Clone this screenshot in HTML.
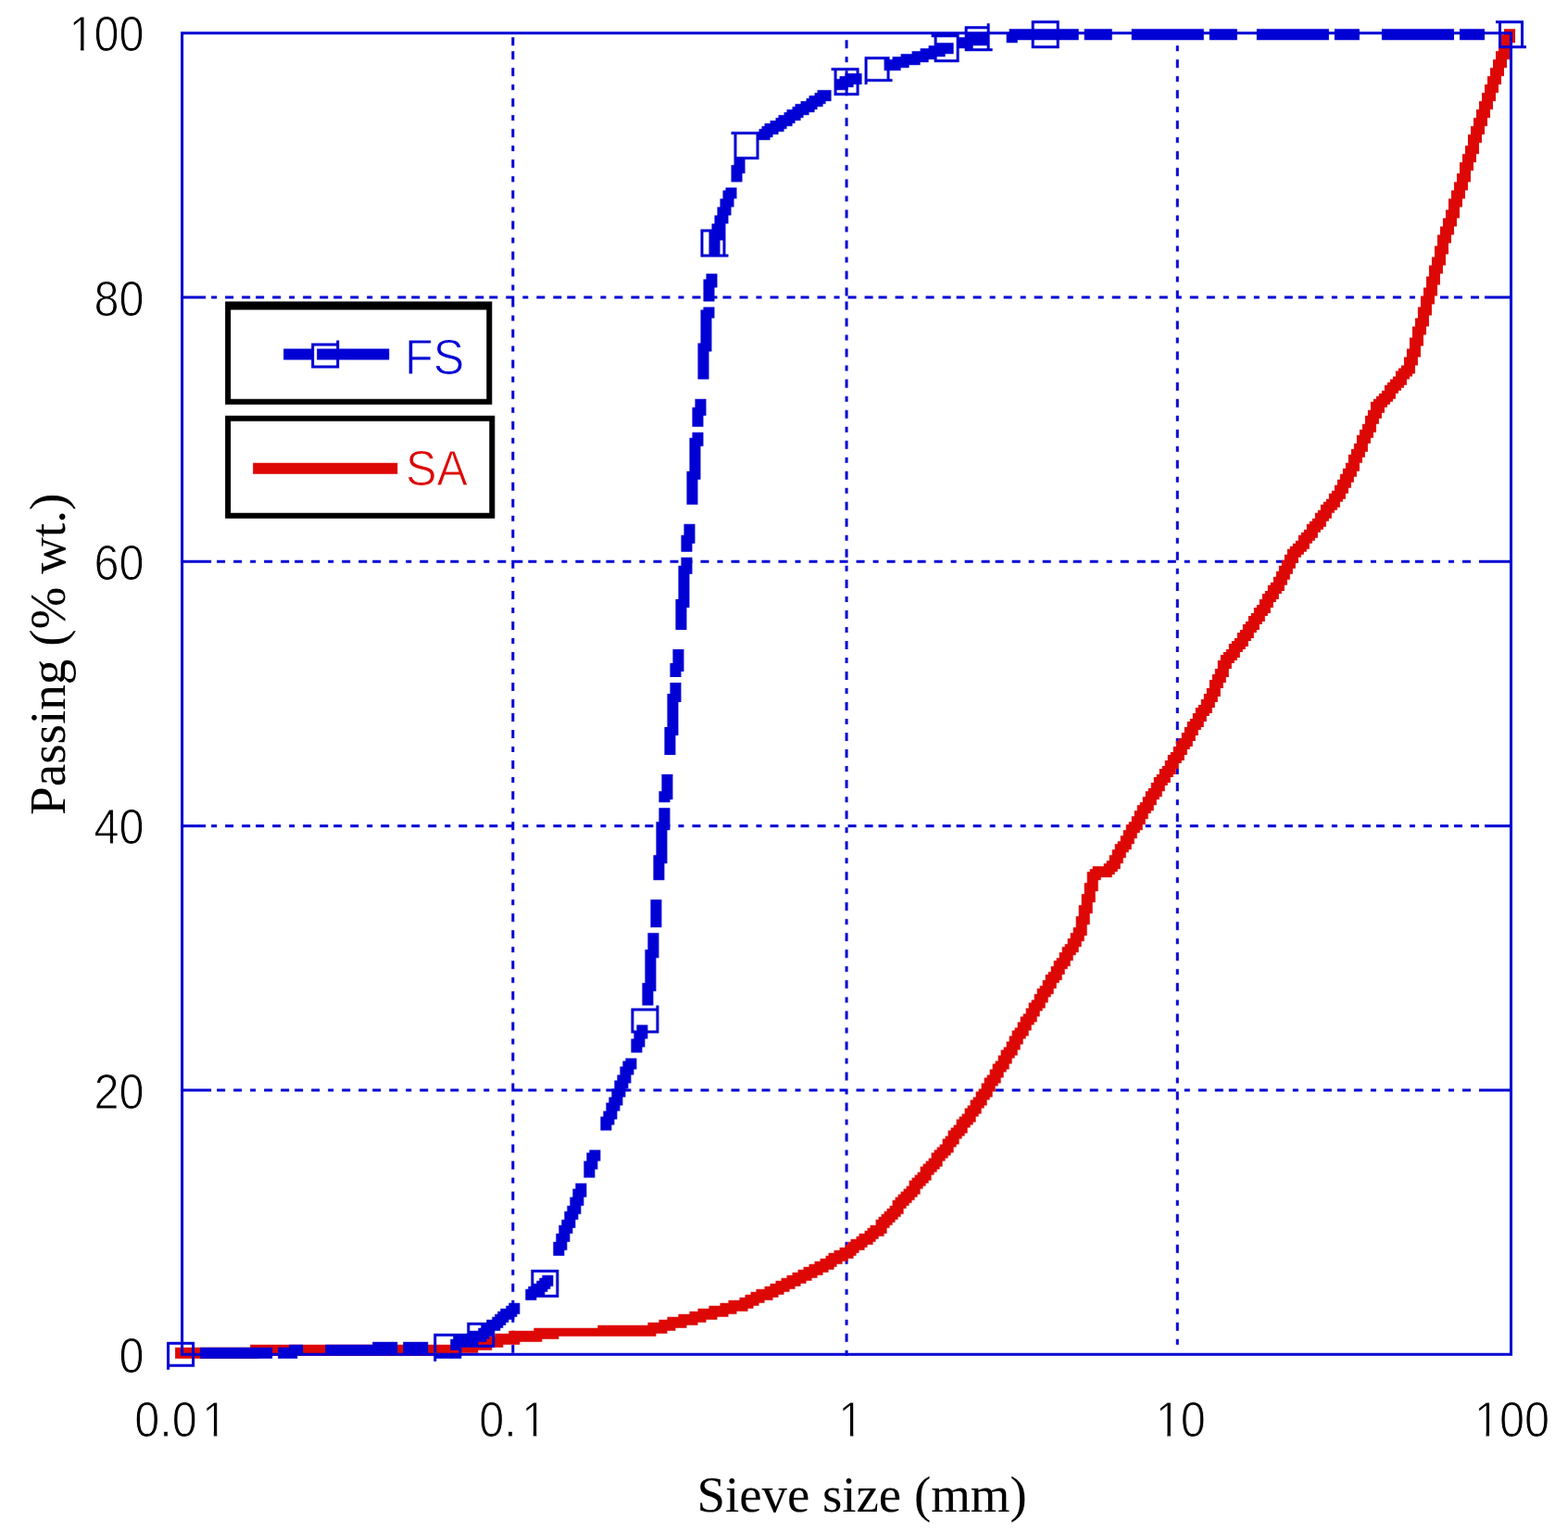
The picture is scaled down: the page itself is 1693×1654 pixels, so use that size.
<!DOCTYPE html>
<html lang="en">
<head>
<meta charset="utf-8">
<title>Sieve size (mm) vs Passing (% wt.)</title>
<style>
html,body{margin:0;padding:0;background:#fff;}
body{width:1693px;height:1654px;overflow:hidden;}
svg{display:block;}
text{white-space:pre;}
.tick{font-family:"Liberation Sans",Arial,Helvetica,sans-serif;font-size:54px;fill:#000;}
.axis{font-family:"Liberation Serif","Times New Roman",Times,serif;font-size:54px;fill:#000;}
.leg{font-family:"Liberation Sans",Arial,Helvetica,sans-serif;font-size:53px;}
</style>
</head>
<body>
<svg width="1693" height="1654" viewBox="0 0 1693 1654">
<rect x="0" y="0" width="1693" height="1654" fill="#fff"/>
<g>
<path id="grid" fill="#0000D4" d="M1269.75 37.2H1272.75V40.2H1269.75ZM552.33 40.2H555.33V49.21H552.33ZM912.54 43.21H915.54V52.22H912.54ZM1269.75 49.21H1272.75V55.22H1269.75ZM552.33 55.22H555.33V64.23H552.33ZM912.54 61.23H915.54V67.23H912.54ZM1269.75 64.23H1272.75V73.24H1269.75ZM552.33 73.24H555.33V82.25H552.33ZM912.54 76.25H915.54V85.26H912.54ZM1269.75 82.25H1272.75V88.26H1269.75ZM552.33 91.26H555.33V97.27H552.33ZM912.54 94.27H915.54V103.28H912.54ZM1269.75 97.27H1272.75V106.28H1269.75ZM552.33 106.28H555.33V115.29H552.33ZM912.54 112.29H915.54V118.29H912.54ZM1269.75 115.29H1272.75V121.3H1269.75ZM552.33 124.3H555.33V130.31H552.33ZM912.54 127.3H915.54V136.31H912.54ZM1269.75 130.31H1272.75V139.32H1269.75ZM552.33 139.32H555.33V148.33H552.33ZM912.54 145.32H915.54V151.33H912.54ZM1269.75 148.33H1272.75V154.33H1269.75ZM552.33 157.34H555.33V163.34H552.33ZM912.54 160.34H915.54V169.35H912.54ZM1269.75 163.34H1272.75V172.35H1269.75ZM552.33 172.35H555.33V181.36H552.33ZM912.54 178.36H915.54V184.37H912.54ZM1269.75 181.36H1272.75V190.37H1269.75ZM552.33 190.37H555.33V196.38H552.33ZM912.54 193.38H915.54V202.39H912.54ZM1269.75 199.38H1272.75V205.39H1269.75ZM552.33 205.39H555.33V214.4H552.33ZM912.54 211.4H915.54V217.4H912.54ZM1269.75 214.4H1272.75V223.41H1269.75ZM552.33 223.41H555.33V229.42H552.33ZM912.54 226.41H915.54V235.43H912.54ZM1269.75 232.42H1272.75V238.43H1269.75ZM552.33 238.43H555.33V247.44H552.33ZM912.54 244.44H915.54V250.44H912.54ZM1269.75 247.44H1272.75V256.45H1269.75ZM552.33 256.45H555.33V262.46H552.33ZM912.54 259.45H915.54V268.46H912.54ZM1269.75 265.46H1272.75V271.47H1269.75ZM552.33 271.47H555.33V280.48H552.33ZM912.54 277.47H915.54V283.48H912.54ZM1269.75 280.48H1272.75V289.49H1269.75ZM552.33 289.49H555.33V298.5H552.33ZM912.54 292.49H915.54V301.5H912.54ZM1269.75 298.5H1272.75V304.5H1269.75ZM552.33 307.51H555.33V313.51H552.33ZM912.54 310.51H915.54V319.52H912.54ZM1269.75 313.51H1272.75V319.52H1269.75ZM195.12 319.52H222.13V322.52H195.12ZM228.13 319.52H234.14V322.52H228.13ZM243.14 319.52H252.15V322.52H243.14ZM261.15 319.52H270.16V322.52H261.15ZM276.16 319.52H285.17V322.52H276.16ZM294.17 319.52H303.18V322.52H294.17ZM312.18 319.52H318.19V322.52H312.18ZM327.19 319.52H336.2V322.52H327.19ZM345.2 319.52H354.21V322.52H345.2ZM360.21 319.52H369.22V322.52H360.21ZM378.22 319.52H387.23V322.52H378.22ZM396.23 319.52H402.24V322.52H396.23ZM411.24 319.52H420.25V322.52H411.24ZM429.25 319.52H438.26V322.52H429.25ZM444.26 319.52H453.27V322.52H444.26ZM462.27 319.52H471.28V322.52H462.27ZM480.28 319.52H486.29V322.52H480.28ZM495.29 319.52H504.3V322.52H495.29ZM513.3 319.52H522.31V322.52H513.3ZM528.31 319.52H537.32V322.52H528.31ZM546.32 319.52H555.33V322.52H546.32ZM564.33 319.52H570.34V322.52H564.33ZM579.34 319.52H588.35V322.52H579.34ZM597.35 319.52H606.36V322.52H597.35ZM612.36 319.52H621.37V322.52H612.36ZM630.37 319.52H639.38V322.52H630.37ZM648.38 319.52H654.39V322.52H648.38ZM663.39 319.52H672.4V322.52H663.39ZM681.4 319.52H690.41V322.52H681.4ZM696.41 319.52H705.42V322.52H696.41ZM714.42 319.52H723.43V322.52H714.42ZM732.43 319.52H738.44V322.52H732.43ZM747.44 319.52H756.45V322.52H747.44ZM765.45 319.52H774.46V322.52H765.45ZM780.46 319.52H789.47V322.52H780.46ZM798.47 319.52H807.48V322.52H798.47ZM816.48 319.52H822.49V322.52H816.48ZM831.49 319.52H840.5V322.52H831.49ZM849.5 319.52H858.51V322.52H849.5ZM864.51 319.52H873.52V322.52H864.51ZM882.52 319.52H891.53V322.52H882.52ZM900.53 319.52H906.54V322.52H900.53ZM915.54 319.52H924.55V322.52H915.54ZM933.55 319.52H942.56V322.52H933.55ZM948.56 319.52H957.57V322.52H948.56ZM966.57 319.52H975.58V322.52H966.57ZM984.58 319.52H990.59V322.52H984.58ZM999.59 319.52H1008.6V322.52H999.59ZM1017.6 319.52H1026.61V322.52H1017.6ZM1032.61 319.52H1041.62V322.52H1032.61ZM1050.62 319.52H1059.63V322.52H1050.62ZM1068.63 319.52H1074.63V322.52H1068.63ZM1083.64 319.52H1092.65V322.52H1083.64ZM1101.65 319.52H1107.65V322.52H1101.65ZM1116.66 319.52H1125.66V322.52H1116.66ZM1134.67 319.52H1143.68V322.52H1134.67ZM1152.68 319.52H1158.68V322.52H1152.68ZM1167.69 319.52H1176.7V322.52H1167.69ZM1185.7 319.52H1191.7V322.52H1185.7ZM1200.71 319.52H1209.71V322.52H1200.71ZM1218.72 319.52H1227.73V322.52H1218.72ZM1236.73 319.52H1242.73V322.52H1236.73ZM1251.74 319.52H1260.74V322.52H1251.74ZM1269.75 319.52H1275.75V322.52H1269.75ZM1284.76 319.52H1293.76V322.52H1284.76ZM1302.77 319.52H1311.77V322.52H1302.77ZM1320.78 319.52H1326.78V322.52H1320.78ZM1335.79 319.52H1344.79V322.52H1335.79ZM1353.8 319.52H1359.8V322.52H1353.8ZM1368.81 319.52H1377.81V322.52H1368.81ZM1386.82 319.52H1395.82V322.52H1386.82ZM1401.83 319.52H1410.83V322.52H1401.83ZM1419.84 319.52H1428.84V322.52H1419.84ZM1437.85 319.52H1443.85V322.52H1437.85ZM1452.86 319.52H1461.86V322.52H1452.86ZM1470.87 319.52H1479.87V322.52H1470.87ZM1485.88 319.52H1494.88V322.52H1485.88ZM1503.89 319.52H1512.89V322.52H1503.89ZM1521.9 319.52H1527.9V322.52H1521.9ZM1536.91 319.52H1545.91V322.52H1536.91ZM1554.92 319.52H1563.92V322.52H1554.92ZM1569.93 319.52H1578.93V322.52H1569.93ZM1587.94 319.52H1596.94V322.52H1587.94ZM1602.95 319.52H1632.96V322.52H1602.95ZM552.33 322.52H555.33V331.53H552.33ZM912.54 325.53H915.54V334.54H912.54ZM1269.75 331.53H1272.75V337.54H1269.75ZM552.33 340.54H555.33V346.55H552.33ZM912.54 343.55H915.54V352.56H912.54ZM1269.75 346.55H1272.75V355.56H1269.75ZM552.33 355.56H555.33V364.57H552.33ZM912.54 361.57H915.54V367.57H912.54ZM1269.75 364.57H1272.75V370.58H1269.75ZM552.33 373.58H555.33V379.59H552.33ZM912.54 376.59H915.54V385.6H912.54ZM1269.75 379.59H1272.75V388.6H1269.75ZM552.33 388.6H555.33V397.61H552.33ZM912.54 394.61H915.54V400.61H912.54ZM1269.75 397.61H1272.75V403.62H1269.75ZM552.33 406.62H555.33V412.63H552.33ZM912.54 409.62H915.54V418.63H912.54ZM1269.75 412.63H1272.75V421.64H1269.75ZM552.33 421.64H555.33V430.65H552.33ZM912.54 427.64H915.54V433.65H912.54ZM1269.75 430.65H1272.75V439.66H1269.75ZM552.33 439.66H555.33V445.66H552.33ZM912.54 442.66H915.54V451.67H912.54ZM1269.75 448.67H1272.75V454.67H1269.75ZM552.33 454.67H555.33V463.68H552.33ZM912.54 460.68H915.54V466.69H912.54ZM1269.75 463.68H1272.75V472.69H1269.75ZM552.33 472.69H555.33V478.7H552.33ZM912.54 475.7H915.54V484.71H912.54ZM1269.75 481.7H1272.75V487.71H1269.75ZM552.33 487.71H555.33V496.72H552.33ZM912.54 493.72H915.54V499.72H912.54ZM1269.75 496.72H1272.75V505.73H1269.75ZM552.33 505.73H555.33V511.74H552.33ZM912.54 508.73H915.54V517.74H912.54ZM1269.75 514.74H1272.75V520.75H1269.75ZM552.33 520.75H555.33V529.76H552.33ZM912.54 526.75H915.54V532.76H912.54ZM1269.75 529.76H1272.75V538.77H1269.75ZM552.33 538.77H555.33V547.78H552.33ZM912.54 541.77H915.54V550.78H912.54ZM1269.75 547.78H1272.75V553.79H1269.75ZM552.33 556.79H555.33V562.8H552.33ZM912.54 559.79H915.54V568.8H912.54ZM1269.75 562.8H1272.75V571.81H1269.75ZM552.33 571.81H555.33V580.82H552.33ZM912.54 577.81H915.54V583.82H912.54ZM1269.75 580.82H1272.75V586.82H1269.75ZM552.33 589.83H555.33V595.83H552.33ZM912.54 592.83H915.54V601.84H912.54ZM1269.75 595.83H1272.75V604.84H1269.75ZM195.12 604.84H228.13V607.85H195.12ZM234.14 604.84H243.14V607.85H234.14ZM252.15 604.84H261.15V607.85H252.15ZM270.16 604.84H276.16V607.85H270.16ZM285.17 604.84H294.17V607.85H285.17ZM303.18 604.84H312.18V607.85H303.18ZM318.19 604.84H327.19V607.85H318.19ZM336.2 604.84H345.2V607.85H336.2ZM354.21 604.84H360.21V607.85H354.21ZM369.22 604.84H378.22V607.85H369.22ZM387.23 604.84H396.23V607.85H387.23ZM402.24 604.84H411.24V607.85H402.24ZM420.25 604.84H429.25V607.85H420.25ZM438.26 604.84H444.26V607.85H438.26ZM453.27 604.84H462.27V607.85H453.27ZM471.28 604.84H480.28V607.85H471.28ZM486.29 604.84H495.29V607.85H486.29ZM504.3 604.84H513.3V607.85H504.3ZM522.31 604.84H528.31V607.85H522.31ZM537.32 604.84H546.32V607.85H537.32ZM552.33 604.84H564.33V607.85H552.33ZM570.34 604.84H579.34V607.85H570.34ZM588.35 604.84H597.35V607.85H588.35ZM606.36 604.84H612.36V607.85H606.36ZM621.37 604.84H630.37V607.85H621.37ZM639.38 604.84H648.38V607.85H639.38ZM654.39 604.84H663.39V607.85H654.39ZM672.4 604.84H681.4V607.85H672.4ZM690.41 604.84H696.41V607.85H690.41ZM705.42 604.84H714.42V607.85H705.42ZM723.43 604.84H732.43V607.85H723.43ZM738.44 604.84H747.44V607.85H738.44ZM756.45 604.84H765.45V607.85H756.45ZM774.46 604.84H780.46V607.85H774.46ZM789.47 604.84H798.47V607.85H789.47ZM807.48 604.84H816.48V607.85H807.48ZM822.49 604.84H831.49V607.85H822.49ZM840.5 604.84H849.5V607.85H840.5ZM858.51 604.84H864.51V607.85H858.51ZM873.52 604.84H882.52V607.85H873.52ZM891.53 604.84H900.53V607.85H891.53ZM906.54 604.84H915.54V607.85H906.54ZM924.55 604.84H933.55V607.85H924.55ZM942.56 604.84H948.56V607.85H942.56ZM957.57 604.84H966.57V607.85H957.57ZM975.58 604.84H984.58V607.85H975.58ZM990.59 604.84H999.59V607.85H990.59ZM1008.6 604.84H1017.6V607.85H1008.6ZM1026.61 604.84H1032.61V607.85H1026.61ZM1041.62 604.84H1050.62V607.85H1041.62ZM1059.63 604.84H1068.63V607.85H1059.63ZM1074.63 604.84H1083.64V607.85H1074.63ZM1092.65 604.84H1101.65V607.85H1092.65ZM1110.66 604.84H1116.66V607.85H1110.66ZM1125.66 604.84H1134.67V607.85H1125.66ZM1143.68 604.84H1152.68V607.85H1143.68ZM1158.68 604.84H1167.69V607.85H1158.68ZM1176.7 604.84H1185.7V607.85H1176.7ZM1194.71 604.84H1200.71V607.85H1194.71ZM1209.71 604.84H1218.72V607.85H1209.71ZM1227.73 604.84H1236.73V607.85H1227.73ZM1242.73 604.84H1251.74V607.85H1242.73ZM1260.74 604.84H1269.75V607.85H1260.74ZM1278.76 604.84H1284.76V607.85H1278.76ZM1293.76 604.84H1302.77V607.85H1293.76ZM1311.77 604.84H1320.78V607.85H1311.77ZM1326.78 604.84H1335.79V607.85H1326.78ZM1344.79 604.84H1353.8V607.85H1344.79ZM1359.8 604.84H1368.81V607.85H1359.8ZM1377.81 604.84H1386.82V607.85H1377.81ZM1395.82 604.84H1401.83V607.85H1395.82ZM1410.83 604.84H1419.84V607.85H1410.83ZM1428.84 604.84H1437.85V607.85H1428.84ZM1443.85 604.84H1452.86V607.85H1443.85ZM1461.86 604.84H1470.87V607.85H1461.86ZM1479.87 604.84H1485.88V607.85H1479.87ZM1494.88 604.84H1503.89V607.85H1494.88ZM1512.89 604.84H1521.9V607.85H1512.89ZM1527.9 604.84H1536.91V607.85H1527.9ZM1545.91 604.84H1554.92V607.85H1545.91ZM1563.92 604.84H1569.93V607.85H1563.92ZM1578.93 604.84H1587.94V607.85H1578.93ZM1596.94 604.84H1632.96V607.85H1596.94ZM552.33 607.85H555.33V613.85H552.33ZM912.54 610.85H915.54V616.86H912.54ZM1269.75 613.85H1272.75V619.86H1269.75ZM552.33 622.86H555.33V628.87H552.33ZM912.54 625.87H915.54V634.88H912.54ZM1269.75 628.87H1272.75V637.88H1269.75ZM552.33 637.88H555.33V646.89H552.33ZM912.54 643.89H915.54V649.89H912.54ZM1269.75 646.89H1272.75V655.9H1269.75ZM552.33 655.9H555.33V661.91H552.33ZM912.54 658.9H915.54V667.91H912.54ZM1269.75 661.91H1272.75V670.92H1269.75ZM552.33 670.92H555.33V679.93H552.33ZM912.54 676.92H915.54V682.93H912.54ZM1269.75 679.93H1272.75V688.94H1269.75ZM552.33 688.94H555.33V694.95H552.33ZM912.54 691.94H915.54V700.95H912.54ZM1269.75 697.95H1272.75V703.96H1269.75ZM552.33 703.96H555.33V712.97H552.33ZM912.54 709.96H915.54V715.97H912.54ZM1269.75 712.97H1272.75V721.98H1269.75ZM552.33 721.98H555.33V727.98H552.33ZM912.54 724.98H915.54V733.99H912.54ZM1269.75 730.99H1272.75V736.99H1269.75ZM552.33 736.99H555.33V746H552.33ZM912.54 743H915.54V749.01H912.54ZM1269.75 746H1272.75V755.01H1269.75ZM552.33 755.01H555.33V764.02H552.33ZM912.54 758.02H915.54V767.03H912.54ZM1269.75 764.02H1272.75V770.03H1269.75ZM552.33 770.03H555.33V779.04H552.33ZM912.54 776.04H915.54V782.04H912.54ZM1269.75 779.04H1272.75V788.05H1269.75ZM552.33 788.05H555.33V797.06H552.33ZM912.54 791.05H915.54V800.06H912.54ZM1269.75 797.06H1272.75V803.07H1269.75ZM552.33 806.07H555.33V812.08H552.33ZM912.54 809.07H915.54V818.08H912.54ZM1269.75 812.08H1272.75V821.09H1269.75ZM552.33 821.09H555.33V830.1H552.33ZM912.54 827.1H915.54V833.1H912.54ZM1269.75 830.1H1272.75V836.11H1269.75ZM552.33 839.11H555.33V845.12H552.33ZM912.54 842.11H915.54V851.12H912.54ZM1269.75 845.12H1272.75V854.13H1269.75ZM552.33 854.13H555.33V863.14H552.33ZM912.54 860.13H915.54V866.14H912.54ZM1269.75 863.14H1272.75V869.14H1269.75ZM552.33 872.15H555.33V878.15H552.33ZM912.54 875.15H915.54V884.16H912.54ZM1269.75 878.15H1272.75V887.16H1269.75ZM552.33 887.16H555.33V890.17H552.33ZM195.12 890.17H222.13V893.17H195.12ZM228.13 890.17H234.14V893.17H228.13ZM243.14 890.17H252.15V893.17H243.14ZM261.15 890.17H270.16V893.17H261.15ZM276.16 890.17H285.17V893.17H276.16ZM294.17 890.17H303.18V893.17H294.17ZM312.18 890.17H318.19V893.17H312.18ZM327.19 890.17H336.2V893.17H327.19ZM345.2 890.17H354.21V893.17H345.2ZM360.21 890.17H369.22V893.17H360.21ZM378.22 890.17H387.23V893.17H378.22ZM396.23 890.17H402.24V893.17H396.23ZM411.24 890.17H420.25V893.17H411.24ZM429.25 890.17H438.26V893.17H429.25ZM444.26 890.17H453.27V893.17H444.26ZM462.27 890.17H471.28V893.17H462.27ZM480.28 890.17H486.29V893.17H480.28ZM495.29 890.17H504.3V893.17H495.29ZM513.3 890.17H522.31V893.17H513.3ZM528.31 890.17H537.32V893.17H528.31ZM546.32 890.17H555.33V893.17H546.32ZM564.33 890.17H570.34V893.17H564.33ZM579.34 890.17H588.35V893.17H579.34ZM597.35 890.17H606.36V893.17H597.35ZM612.36 890.17H621.37V893.17H612.36ZM630.37 890.17H639.38V893.17H630.37ZM648.38 890.17H654.39V893.17H648.38ZM663.39 890.17H672.4V893.17H663.39ZM681.4 890.17H690.41V893.17H681.4ZM696.41 890.17H705.42V893.17H696.41ZM714.42 890.17H723.43V893.17H714.42ZM732.43 890.17H738.44V893.17H732.43ZM747.44 890.17H756.45V893.17H747.44ZM765.45 890.17H774.46V893.17H765.45ZM780.46 890.17H789.47V893.17H780.46ZM798.47 890.17H807.48V893.17H798.47ZM816.48 890.17H822.49V893.17H816.48ZM831.49 890.17H840.5V893.17H831.49ZM849.5 890.17H858.51V893.17H849.5ZM864.51 890.17H873.52V893.17H864.51ZM882.52 890.17H891.53V893.17H882.52ZM900.53 890.17H906.54V893.17H900.53ZM915.54 890.17H924.55V893.17H915.54ZM933.55 890.17H942.56V893.17H933.55ZM948.56 890.17H957.57V893.17H948.56ZM966.57 890.17H975.58V893.17H966.57ZM984.58 890.17H990.59V893.17H984.58ZM999.59 890.17H1008.6V893.17H999.59ZM1017.6 890.17H1026.61V893.17H1017.6ZM1032.61 890.17H1041.62V893.17H1032.61ZM1050.62 890.17H1059.63V893.17H1050.62ZM1068.63 890.17H1074.63V893.17H1068.63ZM1083.64 890.17H1092.65V893.17H1083.64ZM1101.65 890.17H1107.65V893.17H1101.65ZM1116.66 890.17H1125.66V893.17H1116.66ZM1134.67 890.17H1143.68V893.17H1134.67ZM1152.68 890.17H1158.68V893.17H1152.68ZM1167.69 890.17H1176.7V893.17H1167.69ZM1185.7 890.17H1191.7V893.17H1185.7ZM1200.71 890.17H1209.71V893.17H1200.71ZM1218.72 890.17H1227.73V893.17H1218.72ZM1236.73 890.17H1242.73V893.17H1236.73ZM1251.74 890.17H1260.74V893.17H1251.74ZM1269.75 890.17H1275.75V893.17H1269.75ZM1284.76 890.17H1293.76V893.17H1284.76ZM1302.77 890.17H1311.77V893.17H1302.77ZM1320.78 890.17H1326.78V893.17H1320.78ZM1335.79 890.17H1344.79V893.17H1335.79ZM1353.8 890.17H1359.8V893.17H1353.8ZM1368.81 890.17H1377.81V893.17H1368.81ZM1386.82 890.17H1395.82V893.17H1386.82ZM1401.83 890.17H1410.83V893.17H1401.83ZM1419.84 890.17H1428.84V893.17H1419.84ZM1437.85 890.17H1443.85V893.17H1437.85ZM1452.86 890.17H1461.86V893.17H1452.86ZM1470.87 890.17H1479.87V893.17H1470.87ZM1485.88 890.17H1494.88V893.17H1485.88ZM1503.89 890.17H1512.89V893.17H1503.89ZM1521.9 890.17H1527.9V893.17H1521.9ZM1536.91 890.17H1545.91V893.17H1536.91ZM1554.92 890.17H1563.92V893.17H1554.92ZM1569.93 890.17H1578.93V893.17H1569.93ZM1587.94 890.17H1596.94V893.17H1587.94ZM1602.95 890.17H1632.96V893.17H1602.95ZM552.33 893.17H555.33V896.17H552.33ZM912.54 893.17H915.54V899.18H912.54ZM1269.75 896.17H1272.75V905.18H1269.75ZM552.33 905.18H555.33V911.19H552.33ZM912.54 908.19H915.54V917.2H912.54ZM1269.75 914.19H1272.75V920.2H1269.75ZM552.33 920.2H555.33V929.21H552.33ZM912.54 926.21H915.54V932.21H912.54ZM1269.75 929.21H1272.75V938.22H1269.75ZM552.33 938.22H555.33V944.23H552.33ZM912.54 941.22H915.54V950.23H912.54ZM1269.75 947.23H1272.75V953.24H1269.75ZM552.33 953.24H555.33V962.25H552.33ZM912.54 959.24H915.54V965.25H912.54ZM1269.75 962.25H1272.75V971.26H1269.75ZM552.33 971.26H555.33V977.26H552.33ZM912.54 974.26H915.54V983.27H912.54ZM1269.75 980.27H1272.75V986.28H1269.75ZM552.33 986.28H555.33V995.29H552.33ZM912.54 992.28H915.54V998.29H912.54ZM1269.75 995.29H1272.75V1004.3H1269.75ZM552.33 1004.3H555.33V1013.31H552.33ZM912.54 1007.3H915.54V1016.31H912.54ZM1269.75 1013.31H1272.75V1019.31H1269.75ZM552.33 1022.32H555.33V1028.32H552.33ZM912.54 1025.32H915.54V1034.33H912.54ZM1269.75 1028.32H1272.75V1037.33H1269.75ZM552.33 1037.33H555.33V1046.34H552.33ZM912.54 1043.34H915.54V1049.35H912.54ZM1269.75 1046.34H1272.75V1052.35H1269.75ZM552.33 1055.35H555.33V1061.36H552.33ZM912.54 1058.36H915.54V1067.37H912.54ZM1269.75 1061.36H1272.75V1070.37H1269.75ZM552.33 1070.37H555.33V1079.38H552.33ZM912.54 1076.38H915.54V1082.38H912.54ZM1269.75 1079.38H1272.75V1085.39H1269.75ZM552.33 1088.39H555.33V1094.4H552.33ZM912.54 1091.39H915.54V1100.4H912.54ZM1269.75 1094.4H1272.75V1103.41H1269.75ZM552.33 1103.41H555.33V1112.42H552.33ZM912.54 1109.41H915.54V1115.42H912.54ZM1269.75 1112.42H1272.75V1118.42H1269.75ZM552.33 1121.43H555.33V1127.44H552.33ZM912.54 1124.43H915.54V1133.44H912.54ZM1269.75 1127.44H1272.75V1136.45H1269.75ZM552.33 1136.45H555.33V1145.46H552.33ZM912.54 1142.45H915.54V1148.46H912.54ZM1269.75 1145.46H1272.75V1154.47H1269.75ZM552.33 1154.47H555.33V1160.47H552.33ZM912.54 1157.47H915.54V1166.48H912.54ZM1269.75 1163.48H1272.75V1169.48H1269.75ZM552.33 1169.48H555.33V1175.49H552.33ZM195.12 1175.49H228.13V1178.49H195.12ZM234.14 1175.49H243.14V1178.49H234.14ZM252.15 1175.49H261.15V1178.49H252.15ZM270.16 1175.49H276.16V1178.49H270.16ZM285.17 1175.49H294.17V1178.49H285.17ZM303.18 1175.49H312.18V1178.49H303.18ZM318.19 1175.49H327.19V1178.49H318.19ZM336.2 1175.49H345.2V1178.49H336.2ZM354.21 1175.49H360.21V1178.49H354.21ZM369.22 1175.49H378.22V1178.49H369.22ZM387.23 1175.49H396.23V1178.49H387.23ZM402.24 1175.49H411.24V1178.49H402.24ZM420.25 1175.49H429.25V1178.49H420.25ZM438.26 1175.49H444.26V1178.49H438.26ZM453.27 1175.49H462.27V1178.49H453.27ZM471.28 1175.49H480.28V1178.49H471.28ZM486.29 1175.49H495.29V1178.49H486.29ZM504.3 1175.49H513.3V1178.49H504.3ZM522.31 1175.49H528.31V1178.49H522.31ZM537.32 1175.49H546.32V1178.49H537.32ZM552.33 1175.49H564.33V1178.49H552.33ZM570.34 1175.49H579.34V1178.49H570.34ZM588.35 1175.49H597.35V1178.49H588.35ZM606.36 1175.49H612.36V1178.49H606.36ZM621.37 1175.49H630.37V1178.49H621.37ZM639.38 1175.49H648.38V1178.49H639.38ZM654.39 1175.49H663.39V1178.49H654.39ZM672.4 1175.49H681.4V1178.49H672.4ZM690.41 1175.49H696.41V1178.49H690.41ZM705.42 1175.49H714.42V1178.49H705.42ZM723.43 1175.49H732.43V1178.49H723.43ZM738.44 1175.49H747.44V1178.49H738.44ZM756.45 1175.49H765.45V1178.49H756.45ZM774.46 1175.49H780.46V1178.49H774.46ZM789.47 1175.49H798.47V1178.49H789.47ZM807.48 1175.49H816.48V1178.49H807.48ZM822.49 1175.49H831.49V1178.49H822.49ZM840.5 1175.49H849.5V1178.49H840.5ZM858.51 1175.49H864.51V1178.49H858.51ZM873.52 1175.49H882.52V1178.49H873.52ZM891.53 1175.49H900.53V1178.49H891.53ZM906.54 1175.49H915.54V1178.49H906.54ZM924.55 1175.49H933.55V1178.49H924.55ZM942.56 1175.49H948.56V1178.49H942.56ZM957.57 1175.49H966.57V1178.49H957.57ZM975.58 1175.49H984.58V1178.49H975.58ZM990.59 1175.49H999.59V1178.49H990.59ZM1008.6 1175.49H1017.6V1178.49H1008.6ZM1026.61 1175.49H1032.61V1178.49H1026.61ZM1041.62 1175.49H1050.62V1178.49H1041.62ZM1059.63 1175.49H1068.63V1178.49H1059.63ZM1074.63 1175.49H1083.64V1178.49H1074.63ZM1092.65 1175.49H1101.65V1178.49H1092.65ZM1110.66 1175.49H1116.66V1178.49H1110.66ZM1125.66 1175.49H1134.67V1178.49H1125.66ZM1143.68 1175.49H1152.68V1178.49H1143.68ZM1158.68 1175.49H1167.69V1178.49H1158.68ZM1176.7 1175.49H1185.7V1178.49H1176.7ZM1194.71 1175.49H1200.71V1178.49H1194.71ZM1209.71 1175.49H1218.72V1178.49H1209.71ZM1227.73 1175.49H1236.73V1178.49H1227.73ZM1242.73 1175.49H1251.74V1178.49H1242.73ZM1260.74 1175.49H1269.75V1178.49H1260.74ZM1278.76 1175.49H1284.76V1178.49H1278.76ZM1293.76 1175.49H1302.77V1178.49H1293.76ZM1311.77 1175.49H1320.78V1178.49H1311.77ZM1326.78 1175.49H1335.79V1178.49H1326.78ZM1344.79 1175.49H1353.8V1178.49H1344.79ZM1359.8 1175.49H1368.81V1178.49H1359.8ZM1377.81 1175.49H1386.82V1178.49H1377.81ZM1395.82 1175.49H1401.83V1178.49H1395.82ZM1410.83 1175.49H1419.84V1178.49H1410.83ZM1428.84 1175.49H1437.85V1178.49H1428.84ZM1443.85 1175.49H1452.86V1178.49H1443.85ZM1461.86 1175.49H1470.87V1178.49H1461.86ZM1479.87 1175.49H1485.88V1178.49H1479.87ZM1494.88 1175.49H1503.89V1178.49H1494.88ZM1512.89 1175.49H1521.9V1178.49H1512.89ZM1527.9 1175.49H1536.91V1178.49H1527.9ZM1545.91 1175.49H1554.92V1178.49H1545.91ZM1563.92 1175.49H1569.93V1178.49H1563.92ZM1578.93 1175.49H1587.94V1178.49H1578.93ZM1596.94 1175.49H1632.96V1178.49H1596.94ZM912.54 1178.49H915.54V1181.5H912.54ZM1269.75 1178.49H1272.75V1187.5H1269.75ZM552.33 1187.5H555.33V1193.51H552.33ZM912.54 1190.51H915.54V1199.52H912.54ZM1269.75 1196.51H1272.75V1202.52H1269.75ZM552.33 1202.52H555.33V1211.53H552.33ZM912.54 1208.53H915.54V1214.53H912.54ZM1269.75 1211.53H1272.75V1220.54H1269.75ZM552.33 1220.54H555.33V1226.55H552.33ZM912.54 1223.54H915.54V1232.55H912.54ZM1269.75 1229.55H1272.75V1235.56H1269.75ZM552.33 1235.56H555.33V1244.57H552.33ZM912.54 1241.56H915.54V1247.57H912.54ZM1269.75 1244.57H1272.75V1253.58H1269.75ZM552.33 1253.58H555.33V1262.59H552.33ZM912.54 1256.58H915.54V1265.59H912.54ZM1269.75 1262.59H1272.75V1268.59H1269.75ZM552.33 1271.6H555.33V1277.61H552.33ZM912.54 1274.6H915.54V1283.61H912.54ZM1269.75 1277.61H1272.75V1286.62H1269.75ZM552.33 1286.62H555.33V1295.63H552.33ZM912.54 1292.62H915.54V1298.63H912.54ZM1269.75 1295.63H1272.75V1301.63H1269.75ZM552.33 1304.64H555.33V1310.64H552.33ZM912.54 1307.64H915.54V1316.65H912.54ZM1269.75 1310.64H1272.75V1319.65H1269.75ZM552.33 1319.65H555.33V1328.66H552.33ZM912.54 1325.66H915.54V1331.67H912.54ZM1269.75 1328.66H1272.75V1334.67H1269.75ZM552.33 1337.67H555.33V1343.68H552.33ZM912.54 1340.68H915.54V1349.69H912.54ZM1269.75 1343.68H1272.75V1352.69H1269.75ZM552.33 1352.69H555.33V1361.7H552.33ZM912.54 1358.7H915.54V1364.7H912.54ZM1269.75 1361.7H1272.75V1370.71H1269.75ZM552.33 1370.71H555.33V1376.72H552.33ZM912.54 1373.71H915.54V1382.72H912.54ZM1269.75 1379.72H1272.75V1385.73H1269.75ZM552.33 1385.73H555.33V1394.74H552.33ZM912.54 1391.73H915.54V1397.74H912.54ZM1269.75 1394.74H1272.75V1403.75H1269.75ZM552.33 1403.75H555.33V1409.75H552.33ZM912.54 1406.75H915.54V1415.76H912.54ZM1269.75 1412.76H1272.75V1418.76H1269.75ZM552.33 1418.76H555.33V1427.78H552.33ZM912.54 1424.77H915.54V1430.78H912.54ZM1269.75 1427.78H1272.75V1436.79H1269.75ZM552.33 1436.79H555.33V1442.79H552.33ZM912.54 1439.79H915.54V1448.8H912.54ZM1269.75 1445.8H1272.75V1451.8H1269.75ZM552.33 1451.8H555.33V1460.81H552.33ZM912.54 1457.81H915.54V1463.82H912.54Z"/>
<path id="sa" fill="#DD0806" d="M1623.96 31.19H1635.97V37.2H1623.96ZM1620.96 37.2H1635.97V46.21H1620.96ZM1617.96 46.21H1632.96V55.22H1617.96ZM1614.95 55.22H1629.96V64.23H1614.95ZM1611.95 64.23H1626.96V73.24H1611.95ZM1608.95 73.24H1623.96V82.25H1608.95ZM1605.95 82.25H1620.96V91.26H1605.95ZM1602.95 91.26H1617.96V100.27H1602.95ZM1599.95 100.27H1614.95V109.28H1599.95ZM1596.94 109.28H1611.95V118.29H1596.94ZM1593.94 118.29H1608.95V127.3H1593.94ZM1590.94 127.3H1605.95V136.31H1590.94ZM1587.94 136.31H1602.95V145.32H1587.94ZM1584.94 145.32H1599.95V154.33H1584.94ZM1584.94 154.33H1596.94V157.34H1584.94ZM1581.93 157.34H1596.94V166.35H1581.93ZM1578.93 166.35H1593.94V175.36H1578.93ZM1575.93 175.36H1590.94V184.37H1575.93ZM1575.93 184.37H1587.94V187.37H1575.93ZM1572.93 187.37H1587.94V196.38H1572.93ZM1569.93 196.38H1584.94V205.39H1569.93ZM1566.93 205.39H1581.93V214.4H1566.93ZM1563.92 214.4H1578.93V223.41H1563.92ZM1563.92 223.41H1575.93V226.41H1563.92ZM1560.92 226.41H1575.93V235.43H1560.92ZM1557.92 235.43H1572.93V244.44H1557.92ZM1554.92 244.44H1569.93V253.45H1554.92ZM1551.92 253.45H1566.93V262.46H1551.92ZM1551.92 262.46H1563.92V265.46H1551.92ZM1548.91 265.46H1563.92V274.47H1548.91ZM1548.91 274.47H1560.92V277.47H1548.91ZM1545.91 277.47H1560.92V286.48H1545.91ZM1542.91 286.48H1557.92V295.49H1542.91ZM1542.91 295.49H1554.92V298.5H1542.91ZM1539.91 298.5H1554.92V307.51H1539.91ZM1539.91 307.51H1551.92V310.51H1539.91ZM1536.91 310.51H1551.92V319.52H1536.91ZM1533.91 319.52H1548.91V328.53H1533.91ZM1533.91 328.53H1545.91V331.53H1533.91ZM1530.9 331.53H1545.91V340.54H1530.9ZM1530.9 340.54H1542.91V343.55H1530.9ZM1527.9 343.55H1542.91V352.56H1527.9ZM1524.9 352.56H1539.91V361.57H1524.9ZM1524.9 361.57H1536.91V364.57H1524.9ZM1521.9 364.57H1536.91V373.58H1521.9ZM1521.9 373.58H1533.91V376.59H1521.9ZM1518.9 376.59H1533.91V385.6H1518.9ZM1515.9 385.6H1530.9V394.61H1515.9ZM1512.89 394.61H1527.9V397.61H1512.89ZM1509.89 397.61H1527.9V400.61H1509.89ZM1506.89 400.61H1527.9V403.62H1506.89ZM1506.89 403.62H1524.9V406.62H1506.89ZM1503.89 406.62H1521.9V409.62H1503.89ZM1500.89 409.62H1518.9V412.63H1500.89ZM1497.88 412.63H1518.9V415.63H1497.88ZM1494.88 415.63H1515.9V418.63H1494.88ZM1494.88 418.63H1512.89V421.64H1494.88ZM1491.88 421.64H1509.89V424.64H1491.88ZM1488.88 424.64H1506.89V427.64H1488.88ZM1485.88 427.64H1506.89V430.65H1485.88ZM1482.88 430.65H1503.89V433.65H1482.88ZM1479.87 433.65H1500.89V436.65H1479.87ZM1479.87 436.65H1497.88V439.66H1479.87ZM1479.87 439.66H1494.88V442.66H1479.87ZM1476.87 442.66H1494.88V445.66H1476.87ZM1476.87 445.66H1491.88V448.67H1476.87ZM1473.87 448.67H1491.88V451.67H1473.87ZM1473.87 451.67H1488.88V457.68H1473.87ZM1470.87 457.68H1485.88V463.68H1470.87ZM1467.87 463.68H1485.88V466.69H1467.87ZM1467.87 466.69H1482.88V469.69H1467.87ZM1464.87 469.69H1482.88V472.69H1464.87ZM1464.87 472.69H1479.87V478.7H1464.87ZM1461.86 478.7H1476.87V484.71H1461.86ZM1458.86 484.71H1476.87V487.71H1458.86ZM1458.86 487.71H1473.87V490.71H1458.86ZM1455.86 490.71H1473.87V493.72H1455.86ZM1455.86 493.72H1470.87V499.72H1455.86ZM273.16 499.72H429.25V511.74H273.16ZM1452.86 499.72H1467.87V505.73H1452.86ZM1449.86 505.73H1467.87V508.73H1449.86ZM1449.86 508.73H1464.87V511.74H1449.86ZM1446.85 511.74H1464.87V514.74H1446.85ZM1446.85 514.74H1461.86V517.74H1446.85ZM1443.85 517.74H1461.86V520.75H1443.85ZM1443.85 520.75H1458.86V523.75H1443.85ZM1440.85 523.75H1458.86V526.75H1440.85ZM1440.85 526.75H1455.86V529.76H1440.85ZM1437.85 529.76H1455.86V532.76H1437.85ZM1434.85 532.76H1452.86V538.77H1434.85ZM1431.85 538.77H1449.86V541.77H1431.85ZM1428.84 541.77H1446.85V544.78H1428.84ZM1425.84 544.78H1446.85V547.78H1425.84ZM1425.84 547.78H1443.85V550.78H1425.84ZM1422.84 550.78H1440.85V553.79H1422.84ZM1419.84 553.79H1437.85V559.79H1419.84ZM1416.84 559.79H1434.85V562.8H1416.84ZM1413.84 562.8H1431.85V565.8H1413.84ZM1410.83 565.8H1431.85V568.8H1410.83ZM1410.83 568.8H1428.84V571.81H1410.83ZM1407.83 571.81H1425.84V574.81H1407.83ZM1404.83 574.81H1422.84V577.81H1404.83ZM1401.83 577.81H1422.84V580.82H1401.83ZM1401.83 580.82H1419.84V583.82H1401.83ZM1398.83 583.82H1416.84V586.82H1398.83ZM1395.82 586.82H1413.84V589.83H1395.82ZM1392.82 589.83H1413.84V592.83H1392.82ZM1389.82 592.83H1410.83V595.83H1389.82ZM1389.82 595.83H1407.83V598.84H1389.82ZM1386.82 598.84H1404.83V601.84H1386.82ZM1386.82 601.84H1401.83V604.84H1386.82ZM1383.82 604.84H1401.83V607.85H1383.82ZM1383.82 607.85H1398.83V610.85H1383.82ZM1380.82 610.85H1398.83V613.85H1380.82ZM1380.82 613.85H1395.82V616.86H1380.82ZM1377.81 616.86H1395.82V619.86H1377.81ZM1377.81 619.86H1392.82V622.86H1377.81ZM1374.81 622.86H1392.82V625.87H1374.81ZM1374.81 625.87H1389.82V628.87H1374.81ZM1371.81 628.87H1389.82V631.87H1371.81ZM1368.81 631.87H1386.82V637.88H1368.81ZM1365.81 637.88H1383.82V640.88H1365.81ZM1362.8 640.88H1380.82V646.89H1362.8ZM1359.8 646.89H1377.81V649.89H1359.8ZM1359.8 649.89H1374.81V652.9H1359.8ZM1356.8 652.9H1374.81V655.9H1356.8ZM1353.8 655.9H1371.81V661.91H1353.8ZM1350.8 661.91H1368.81V664.91H1350.8ZM1347.8 664.91H1365.81V670.92H1347.8ZM1344.79 670.92H1362.8V673.92H1344.79ZM1341.79 673.92H1359.8V679.93H1341.79ZM1338.79 679.93H1356.8V682.93H1338.79ZM1335.79 682.93H1353.8V688.94H1335.79ZM1332.79 688.94H1350.8V691.94H1332.79ZM1329.79 691.94H1347.8V694.95H1329.79ZM1326.78 694.95H1347.8V697.95H1326.78ZM1326.78 697.95H1344.79V700.95H1326.78ZM1323.78 700.95H1341.79V703.96H1323.78ZM1320.78 703.96H1338.79V706.96H1320.78ZM1317.78 706.96H1338.79V709.96H1317.78ZM1317.78 709.96H1335.79V712.97H1317.78ZM1314.78 712.97H1332.79V715.97H1314.78ZM1314.78 715.97H1329.79V721.98H1314.78ZM1311.77 721.98H1326.78V727.98H1311.77ZM1308.77 727.98H1326.78V730.99H1308.77ZM1308.77 730.99H1323.78V733.99H1308.77ZM1305.77 733.99H1323.78V736.99H1305.77ZM1305.77 736.99H1320.78V743H1305.77ZM1302.77 743H1317.78V749.01H1302.77ZM1299.77 749.01H1317.78V752.01H1299.77ZM1299.77 752.01H1314.78V755.01H1299.77ZM1296.77 755.01H1314.78V758.02H1296.77ZM1296.77 758.02H1311.77V761.02H1296.77ZM1293.76 761.02H1311.77V764.02H1293.76ZM1290.76 764.02H1308.77V770.03H1290.76ZM1287.76 770.03H1305.77V773.03H1287.76ZM1287.76 773.03H1302.77V776.04H1287.76ZM1284.76 776.04H1302.77V779.04H1284.76ZM1281.76 779.04H1299.77V785.05H1281.76ZM1278.76 785.05H1296.77V788.05H1278.76ZM1278.76 788.05H1293.76V791.05H1278.76ZM1275.75 791.05H1293.76V794.06H1275.75ZM1275.75 794.06H1290.76V797.06H1275.75ZM1272.75 797.06H1290.76V800.06H1272.75ZM1269.75 800.06H1287.76V806.07H1269.75ZM1266.75 806.07H1284.76V809.07H1266.75ZM1266.75 809.07H1281.76V812.08H1266.75ZM1263.75 812.08H1281.76V815.08H1263.75ZM1260.74 815.08H1278.76V821.09H1260.74ZM1257.74 821.09H1275.75V824.09H1257.74ZM1257.74 824.09H1272.75V827.1H1257.74ZM1254.74 827.1H1272.75V830.1H1254.74ZM1251.74 830.1H1269.75V836.11H1251.74ZM1248.74 836.11H1266.75V839.11H1248.74ZM1245.74 839.11H1263.75V845.12H1245.74ZM1242.73 845.12H1260.74V848.12H1242.73ZM1242.73 848.12H1257.74V851.12H1242.73ZM1239.73 851.12H1257.74V854.13H1239.73ZM1236.73 854.13H1254.74V860.13H1236.73ZM1233.73 860.13H1251.74V863.14H1233.73ZM1233.73 863.14H1248.74V866.14H1233.73ZM1230.73 866.14H1248.74V869.14H1230.73ZM1227.73 869.14H1245.74V875.15H1227.73ZM1224.72 875.15H1242.73V878.15H1224.72ZM1224.72 878.15H1239.73V881.16H1224.72ZM1221.72 881.16H1239.73V884.16H1221.72ZM1221.72 884.16H1236.73V887.16H1221.72ZM1218.72 887.16H1236.73V890.17H1218.72ZM1215.72 890.17H1233.73V896.17H1215.72ZM1212.72 896.17H1230.73V899.18H1212.72ZM1212.72 899.18H1227.73V902.18H1212.72ZM1209.71 902.18H1227.73V905.18H1209.71ZM1209.71 905.18H1224.72V908.19H1209.71ZM1206.71 908.19H1224.72V911.19H1206.71ZM1203.71 911.19H1221.72V917.2H1203.71ZM1200.71 917.2H1218.72V920.2H1200.71ZM1200.71 920.2H1215.72V923.2H1200.71ZM1197.71 923.2H1215.72V926.21H1197.71ZM1197.71 926.21H1212.72V929.21H1197.71ZM1194.71 929.21H1212.72V932.21H1194.71ZM1191.7 932.21H1209.71V935.22H1191.7ZM1179.7 935.22H1209.71V938.22H1179.7ZM1176.7 938.22H1206.71V941.22H1176.7ZM1173.69 941.22H1203.71V944.23H1173.69ZM1173.69 944.23H1200.71V947.23H1173.69ZM1173.69 947.23H1188.7V950.23H1173.69ZM1173.69 950.23H1185.7V953.24H1173.69ZM1170.69 953.24H1185.7V962.25H1170.69ZM1170.69 962.25H1182.7V965.25H1170.69ZM1167.69 965.25H1182.7V974.26H1167.69ZM1167.69 974.26H1179.7V977.26H1167.69ZM1164.69 977.26H1179.7V986.28H1164.69ZM1164.69 986.28H1176.7V989.28H1164.69ZM1161.69 989.28H1176.7V998.29H1161.69ZM1161.69 998.29H1173.69V1001.29H1161.69ZM1158.68 1001.29H1173.69V1007.3H1158.68ZM1155.68 1007.3H1173.69V1010.3H1155.68ZM1155.68 1010.3H1170.69V1013.31H1155.68ZM1152.68 1013.31H1170.69V1016.31H1152.68ZM1152.68 1016.31H1167.69V1019.31H1152.68ZM1149.68 1019.31H1167.69V1022.32H1149.68ZM1146.68 1022.32H1164.69V1028.32H1146.68ZM1143.68 1028.32H1161.69V1031.33H1143.68ZM1143.68 1031.33H1158.68V1034.33H1143.68ZM1140.67 1034.33H1158.68V1037.33H1140.67ZM1137.67 1037.33H1155.68V1043.34H1137.67ZM1134.67 1043.34H1152.68V1046.34H1134.67ZM1134.67 1046.34H1149.68V1049.35H1134.67ZM1131.67 1049.35H1149.68V1052.35H1131.67ZM1128.67 1052.35H1146.68V1058.36H1128.67ZM1125.66 1058.36H1143.68V1061.36H1125.66ZM1125.66 1061.36H1140.67V1064.36H1125.66ZM1122.66 1064.36H1140.67V1067.37H1122.66ZM1119.66 1067.37H1137.67V1073.37H1119.66ZM1116.66 1073.37H1134.67V1076.38H1116.66ZM1116.66 1076.38H1131.67V1079.38H1116.66ZM1113.66 1079.38H1131.67V1082.38H1113.66ZM1110.66 1082.38H1128.67V1088.39H1110.66ZM1107.65 1088.39H1125.66V1091.39H1107.65ZM1107.65 1091.39H1122.66V1094.4H1107.65ZM1104.65 1094.4H1122.66V1097.4H1104.65ZM1101.65 1097.4H1119.66V1103.41H1101.65ZM1098.65 1103.41H1116.66V1106.41H1098.65ZM1098.65 1106.41H1113.66V1109.41H1098.65ZM1095.65 1109.41H1113.66V1112.42H1095.65ZM1092.65 1112.42H1110.66V1118.42H1092.65ZM1089.64 1118.42H1107.65V1121.43H1089.64ZM1089.64 1121.43H1104.65V1124.43H1089.64ZM1086.64 1124.43H1104.65V1127.44H1086.64ZM1086.64 1127.44H1101.65V1130.44H1086.64ZM1083.64 1130.44H1101.65V1133.44H1083.64ZM1080.64 1133.44H1098.65V1139.45H1080.64ZM1077.64 1139.45H1095.65V1142.45H1077.64ZM1077.64 1142.45H1092.65V1145.46H1077.64ZM1074.63 1145.46H1092.65V1148.46H1074.63ZM1071.63 1148.46H1089.64V1154.47H1071.63ZM1068.63 1154.47H1086.64V1157.47H1068.63ZM1068.63 1157.47H1083.64V1160.47H1068.63ZM1065.63 1160.47H1083.64V1163.48H1065.63ZM1062.63 1163.48H1080.64V1169.48H1062.63ZM1059.63 1169.48H1077.64V1172.49H1059.63ZM1059.63 1172.49H1074.63V1175.49H1059.63ZM1056.62 1175.49H1074.63V1178.49H1056.62ZM1053.62 1178.49H1071.63V1184.5H1053.62ZM1050.62 1184.5H1068.63V1187.5H1050.62ZM1047.62 1187.5H1065.63V1193.51H1047.62ZM1044.62 1193.51H1062.63V1196.51H1044.62ZM1041.62 1196.51H1059.63V1202.52H1041.62ZM1038.61 1202.52H1056.62V1205.52H1038.61ZM1035.61 1205.52H1053.62V1208.53H1035.61ZM1032.61 1208.53H1053.62V1211.53H1032.61ZM1032.61 1211.53H1050.62V1214.53H1032.61ZM1029.61 1214.53H1047.62V1217.54H1029.61ZM1026.61 1217.54H1044.62V1220.54H1026.61ZM1023.6 1220.54H1044.62V1223.54H1023.6ZM1023.6 1223.54H1041.62V1226.55H1023.6ZM1020.6 1226.55H1038.61V1229.55H1020.6ZM1017.6 1229.55H1035.61V1235.56H1017.6ZM1014.6 1235.56H1032.61V1238.56H1014.6ZM1011.6 1238.56H1029.61V1241.56H1011.6ZM1008.6 1241.56H1029.61V1244.57H1008.6ZM1005.59 1244.57H1026.61V1247.57H1005.59ZM1005.59 1247.57H1023.6V1250.57H1005.59ZM1002.59 1250.57H1020.6V1253.58H1002.59ZM999.59 1253.58H1017.6V1256.58H999.59ZM996.59 1256.58H1017.6V1259.58H996.59ZM993.59 1259.58H1014.6V1262.59H993.59ZM993.59 1262.59H1011.6V1265.59H993.59ZM990.59 1265.59H1008.6V1268.59H990.59ZM987.58 1268.59H1005.59V1271.6H987.58ZM984.58 1271.6H1005.59V1274.6H984.58ZM981.58 1274.6H1002.59V1277.61H981.58ZM981.58 1277.61H999.59V1280.61H981.58ZM978.58 1280.61H996.59V1283.61H978.58ZM975.58 1283.61H993.59V1286.62H975.58ZM972.57 1286.62H993.59V1289.62H972.57ZM969.57 1289.62H990.59V1292.62H969.57ZM966.57 1292.62H987.58V1295.63H966.57ZM963.57 1295.63H984.58V1298.63H963.57ZM963.57 1298.63H981.58V1301.63H963.57ZM960.57 1301.63H978.58V1304.64H960.57ZM957.57 1304.64H975.58V1307.64H957.57ZM954.56 1307.64H975.58V1310.64H954.56ZM951.56 1310.64H972.57V1313.65H951.56ZM948.56 1313.65H969.57V1316.65H948.56ZM945.56 1316.65H966.57V1319.65H945.56ZM945.56 1319.65H963.57V1322.66H945.56ZM939.55 1322.66H960.57V1325.66H939.55ZM936.55 1325.66H957.57V1328.66H936.55ZM933.55 1328.66H957.57V1331.67H933.55ZM927.55 1331.67H954.56V1334.67H927.55ZM924.55 1334.67H948.56V1337.67H924.55ZM918.54 1337.67H945.56V1340.68H918.54ZM915.54 1340.68H942.56V1343.68H915.54ZM912.54 1343.68H936.55V1346.68H912.54ZM906.54 1346.68H933.55V1349.69H906.54ZM900.53 1349.69H927.55V1352.69H900.53ZM894.53 1352.69H924.55V1355.69H894.53ZM891.53 1355.69H921.54V1358.7H891.53ZM885.52 1358.7H915.54V1361.7H885.52ZM879.52 1361.7H909.54V1364.7H879.52ZM873.52 1364.7H903.53V1367.71H873.52ZM867.51 1367.71H900.53V1370.71H867.51ZM861.51 1370.71H894.53V1373.71H861.51ZM855.51 1373.71H888.52V1376.72H855.51ZM849.5 1376.72H882.52V1379.72H849.5ZM843.5 1379.72H876.52V1382.72H843.5ZM837.49 1382.72H870.51V1385.73H837.49ZM831.49 1385.73H864.51V1388.73H831.49ZM825.49 1388.73H858.51V1391.73H825.49ZM816.48 1391.73H852.5V1394.74H816.48ZM810.48 1394.74H846.5V1397.74H810.48ZM804.48 1397.74H840.5V1400.74H804.48ZM798.47 1400.74H834.49V1403.75H798.47ZM786.46 1403.75H825.49V1406.75H786.46ZM777.46 1406.75H819.48V1409.75H777.46ZM765.45 1409.75H813.48V1412.76H765.45ZM753.45 1412.76H807.48V1415.76H753.45ZM744.44 1415.76H795.47V1418.76H744.44ZM732.43 1418.76H786.46V1421.77H732.43ZM720.43 1421.77H774.46V1424.77H720.43ZM711.42 1424.77H762.45V1427.78H711.42ZM699.41 1427.78H753.45V1430.78H699.41ZM645.38 1430.78H741.44V1433.78H645.38ZM576.34 1433.78H729.43V1436.79H576.34ZM549.32 1436.79H720.43V1439.79H549.32ZM534.32 1439.79H708.42V1442.79H534.32ZM522.31 1442.79H603.36V1445.8H522.31ZM507.3 1445.8H585.35V1448.8H507.3ZM489.29 1448.8H561.33V1451.8H489.29ZM270.16 1451.8H543.32V1454.81H270.16ZM189.11 1454.81H531.31V1457.81H189.11ZM189.11 1457.81H516.3V1460.81H189.11ZM189.11 1460.81H498.29V1463.82H189.11ZM189.11 1463.82H279.16V1466.82H189.11Z"/>
<path id="fs" fill="#0000D4" d="M1113.66 22.18H1143.68V25.19H1113.66ZM1614.95 22.18H1644.97V25.19H1614.95ZM1065.63 25.19H1068.63V28.19H1065.63ZM1113.66 25.19H1116.66V31.19H1113.66ZM1140.67 25.19H1143.68V31.19H1140.67ZM1617.96 25.19H1620.96V34.2H1617.96ZM1641.97 25.19H1644.97V49.21H1641.97ZM1041.62 28.19H1068.63V31.19H1041.62ZM1041.62 31.19H1044.62V34.2H1041.62ZM1065.63 31.19H1068.63V34.2H1065.63ZM1089.64 31.19H1164.69V34.2H1089.64ZM1170.69 31.19H1200.71V34.2H1170.69ZM1221.72 31.19H1299.77V34.2H1221.72ZM1305.77 31.19H1335.79V34.2H1305.77ZM1356.8 31.19H1434.85V34.2H1356.8ZM1440.85 31.19H1467.87V34.2H1440.85ZM1491.88 31.19H1569.93V34.2H1491.88ZM1575.93 31.19H1602.95V34.2H1575.93ZM195.12 34.2H1632.96V37.2H195.12ZM195.12 37.2H198.12V1448.8H195.12ZM1005.59 37.2H1035.61V40.2H1005.59ZM1041.62 37.2H1068.63V40.2H1041.62ZM1086.64 37.2H1164.69V43.21H1086.64ZM1170.69 37.2H1200.71V43.21H1170.69ZM1221.72 37.2H1299.77V43.21H1221.72ZM1305.77 37.2H1335.79V43.21H1305.77ZM1356.8 37.2H1434.85V43.21H1356.8ZM1440.85 37.2H1467.87V43.21H1440.85ZM1491.88 37.2H1569.93V43.21H1491.88ZM1575.93 37.2H1602.95V43.21H1575.93ZM1617.96 37.2H1620.96V49.21H1617.96ZM1629.96 37.2H1632.96V49.21H1629.96ZM1008.6 40.2H1011.6V46.21H1008.6ZM1032.61 40.2H1068.63V49.21H1032.61ZM1086.64 43.21H1098.65V46.21H1086.64ZM1113.66 43.21H1116.66V49.21H1113.66ZM1140.67 43.21H1143.68V49.21H1140.67ZM1008.6 46.21H1029.61V49.21H1008.6ZM1002.59 49.21H1029.61V52.22H1002.59ZM1032.61 49.21H1050.62V52.22H1032.61ZM1065.63 49.21H1068.63V52.22H1065.63ZM1113.66 49.21H1143.68V52.22H1113.66ZM1617.96 49.21H1647.97V52.22H1617.96ZM993.59 52.22H1029.61V55.22H993.59ZM1032.61 52.22H1035.61V64.23H1032.61ZM1041.62 52.22H1071.63V55.22H1041.62ZM1629.96 52.22H1632.96V1460.81H1629.96ZM984.58 55.22H1029.61V58.22H984.58ZM972.57 58.22H1020.6V61.23H972.57ZM933.55 61.23H960.57V64.23H933.55ZM963.57 61.23H1011.6V64.23H963.57ZM933.55 64.23H936.55V85.26H933.55ZM954.56 64.23H1002.59V67.23H954.56ZM1008.6 64.23H1035.61V67.23H1008.6ZM954.56 67.23H993.59V70.24H954.56ZM954.56 70.24H981.58V73.24H954.56ZM897.53 73.24H927.55V76.25H897.53ZM954.56 73.24H972.57V76.25H954.56ZM900.53 76.25H903.53V85.26H900.53ZM924.55 76.25H927.55V79.25H924.55ZM957.57 76.25H960.57V85.26H957.57ZM912.54 79.25H930.55V82.25H912.54ZM906.54 82.25H930.55V85.26H906.54ZM900.53 85.26H930.55V91.26H900.53ZM933.55 85.26H963.57V88.26H933.55ZM933.55 88.26H936.55V91.26H933.55ZM900.53 91.26H921.54V94.27H900.53ZM924.55 91.26H927.55V100.27H924.55ZM900.53 94.27H915.54V97.27H900.53ZM882.52 97.27H897.53V100.27H882.52ZM900.53 97.27H903.53V100.27H900.53ZM879.52 100.27H897.53V103.28H879.52ZM900.53 100.27H927.55V103.28H900.53ZM873.52 103.28H897.53V106.28H873.52ZM870.51 106.28H897.53V109.28H870.51ZM864.51 109.28H891.53V112.29H864.51ZM858.51 112.29H888.52V115.29H858.51ZM855.51 115.29H882.52V118.29H855.51ZM849.5 118.29H879.52V121.3H849.5ZM846.5 121.3H873.52V124.3H846.5ZM840.5 124.3H867.51V127.3H840.5ZM837.49 127.3H864.51V130.31H837.49ZM831.49 130.31H858.51V133.31H831.49ZM825.49 133.31H855.51V136.31H825.49ZM822.49 136.31H849.5V139.32H822.49ZM819.48 139.32H846.5V142.32H819.48ZM789.47 142.32H840.5V145.32H789.47ZM792.47 145.32H795.47V169.35H792.47ZM816.48 145.32H834.49V148.33H816.48ZM816.48 148.33H831.49V151.33H816.48ZM816.48 151.33H819.48V169.35H816.48ZM792.47 169.35H819.48V172.35H792.47ZM792.47 172.35H804.48V178.36H792.47ZM789.47 178.36H804.48V187.37H789.47ZM789.47 187.37H801.47V196.38H789.47ZM783.46 202.39H795.47V205.39H783.46ZM780.46 205.39H795.47V214.4H780.46ZM777.46 214.4H792.47V223.41H777.46ZM774.46 223.41H789.47V232.42H774.46ZM771.46 232.42H786.46V241.43H771.46ZM768.45 241.43H783.46V247.44H768.45ZM756.45 247.44H783.46V250.44H756.45ZM756.45 250.44H759.45V274.47H756.45ZM765.45 250.44H783.46V259.45H765.45ZM765.45 259.45H777.46V274.47H765.45ZM780.46 259.45H783.46V274.47H780.46ZM756.45 274.47H786.46V277.47H756.45ZM762.45 295.49H774.46V301.5H762.45ZM759.45 301.5H774.46V310.51H759.45ZM759.45 310.51H771.46V325.53H759.45ZM759.45 331.53H771.46V334.54H759.45ZM756.45 334.54H771.46V343.55H756.45ZM756.45 343.55H768.45V370.58H756.45ZM363.21 367.57H366.22V370.58H363.21ZM336.2 370.58H366.22V373.58H336.2ZM753.45 370.58H768.45V379.59H753.45ZM336.2 373.58H339.2V376.59H336.2ZM363.21 373.58H366.22V376.59H363.21ZM306.18 376.59H339.2V388.6H306.18ZM342.2 376.59H420.25V388.6H342.2ZM753.45 379.59H765.45V409.62H753.45ZM336.2 388.6H339.2V394.61H336.2ZM363.21 388.6H366.22V394.61H363.21ZM336.2 394.61H366.22V397.61H336.2ZM750.44 430.65H762.45V439.66H750.44ZM747.44 439.66H762.45V448.67H747.44ZM747.44 448.67H759.45V460.68H747.44ZM747.44 466.69H759.45V472.69H747.44ZM744.44 472.69H759.45V481.7H744.44ZM744.44 481.7H756.45V508.73H744.44ZM741.44 508.73H756.45V517.74H741.44ZM741.44 517.74H753.45V544.78H741.44ZM738.44 565.8H750.44V577.81H738.44ZM735.43 577.81H750.44V586.82H735.43ZM735.43 586.82H747.44V595.83H735.43ZM735.43 601.84H747.44V610.85H735.43ZM732.43 610.85H747.44V619.86H732.43ZM732.43 619.86H744.44V646.89H732.43ZM729.43 646.89H744.44V655.9H729.43ZM729.43 655.9H741.44V679.93H729.43ZM726.43 700.95H738.44V715.97H726.43ZM723.43 715.97H738.44V724.98H723.43ZM723.43 724.98H735.43V730.99H723.43ZM723.43 736.99H735.43V749.01H723.43ZM720.43 749.01H735.43V758.02H720.43ZM720.43 758.02H732.43V785.05H720.43ZM717.42 785.05H732.43V794.06H717.42ZM717.42 794.06H729.43V815.08H717.42ZM714.42 836.11H726.43V854.13H714.42ZM711.42 854.13H726.43V863.14H711.42ZM711.42 863.14H723.43V866.14H711.42ZM711.42 872.15H723.43V887.16H711.42ZM708.42 887.16H723.43V896.17H708.42ZM708.42 896.17H720.43V923.2H708.42ZM705.42 923.2H720.43V932.21H705.42ZM705.42 932.21H717.42V950.23H705.42ZM702.41 971.26H714.42V1001.29H702.41ZM699.41 1007.3H711.42V1025.32H699.41ZM696.41 1025.32H711.42V1034.33H696.41ZM696.41 1034.33H708.42V1061.36H696.41ZM693.41 1061.36H708.42V1070.37H693.41ZM693.41 1070.37H705.42V1085.39H693.41ZM708.42 1085.39H711.42V1088.39H708.42ZM681.4 1088.39H711.42V1091.39H681.4ZM681.4 1091.39H684.4V1112.42H681.4ZM708.42 1091.39H711.42V1112.42H708.42ZM687.41 1106.41H699.41V1112.42H687.41ZM681.4 1112.42H711.42V1115.42H681.4ZM684.4 1115.42H699.41V1121.43H684.4ZM681.4 1121.43H696.41V1130.44H681.4ZM681.4 1130.44H693.41V1136.45H681.4ZM675.4 1142.45H687.41V1145.46H675.4ZM672.4 1145.46H687.41V1151.46H672.4ZM669.4 1151.46H687.41V1154.47H669.4ZM669.4 1154.47H684.4V1160.47H669.4ZM666.39 1160.47H681.4V1166.48H666.39ZM663.39 1166.48H681.4V1169.48H663.39ZM663.39 1169.48H678.4V1175.49H663.39ZM660.39 1175.49H675.4V1184.5H660.39ZM657.39 1184.5H672.4V1190.51H657.39ZM654.39 1190.51H672.4V1193.51H654.39ZM654.39 1193.51H669.4V1199.52H654.39ZM651.38 1199.52H666.39V1205.52H651.38ZM648.38 1205.52H666.39V1208.53H648.38ZM648.38 1208.53H663.39V1214.53H648.38ZM648.38 1214.53H660.39V1220.54H648.38ZM636.38 1241.56H648.38V1244.57H636.38ZM633.37 1244.57H648.38V1253.58H633.37ZM630.37 1253.58H645.38V1262.59H630.37ZM630.37 1262.59H642.38V1271.6H630.37ZM621.37 1277.61H633.37V1283.61H621.37ZM618.37 1283.61H633.37V1292.62H618.37ZM615.36 1292.62H630.37V1301.63H615.36ZM612.36 1301.63H627.37V1307.64H612.36ZM609.36 1307.64H627.37V1310.64H609.36ZM609.36 1310.64H624.37V1316.65H609.36ZM606.36 1316.65H621.37V1322.66H606.36ZM603.36 1322.66H621.37V1325.66H603.36ZM603.36 1325.66H618.37V1331.67H603.36ZM600.35 1331.67H615.36V1340.68H600.35ZM597.35 1340.68H612.36V1349.69H597.35ZM597.35 1349.69H609.36V1355.69H597.35ZM573.34 1370.71H603.36V1373.71H573.34ZM573.34 1373.71H576.34V1385.73H573.34ZM600.35 1373.71H603.36V1397.74H600.35ZM585.35 1376.72H597.35V1379.72H585.35ZM582.34 1379.72H597.35V1382.72H582.34ZM579.34 1382.72H597.35V1385.73H579.34ZM573.34 1385.73H597.35V1388.73H573.34ZM570.34 1388.73H594.35V1391.73H570.34ZM567.34 1391.73H591.35V1394.74H567.34ZM567.34 1394.74H588.35V1397.74H567.34ZM567.34 1397.74H603.36V1400.74H567.34ZM567.34 1400.74H579.34V1403.75H567.34ZM549.32 1406.75H561.33V1409.75H549.32ZM546.32 1409.75H561.33V1412.76H546.32ZM540.32 1412.76H561.33V1415.76H540.32ZM537.32 1415.76H561.33V1418.76H537.32ZM534.32 1418.76H558.33V1421.77H534.32ZM531.31 1421.77H555.33V1424.77H531.31ZM525.31 1424.77H549.32V1427.78H525.31ZM504.3 1427.78H546.32V1430.78H504.3ZM504.3 1430.78H507.3V1436.79H504.3ZM519.31 1430.78H543.32V1433.78H519.31ZM516.3 1433.78H540.32V1436.79H516.3ZM504.3 1436.79H534.32V1439.79H504.3ZM468.28 1439.79H534.32V1442.79H468.28ZM468.28 1442.79H471.28V1460.81H468.28ZM489.29 1442.79H528.31V1445.8H489.29ZM531.31 1442.79H534.32V1451.8H531.31ZM486.29 1445.8H525.31V1448.8H486.29ZM180.11 1448.8H210.12V1451.8H180.11ZM402.24 1448.8H429.25V1451.8H402.24ZM435.26 1448.8H462.27V1460.81H435.26ZM486.29 1448.8H516.3V1451.8H486.29ZM180.11 1451.8H183.11V1472.83H180.11ZM195.12 1451.8H198.12V1460.81H195.12ZM207.12 1451.8H210.12V1460.81H207.12ZM312.18 1451.8H327.19V1454.81H312.18ZM351.21 1451.8H429.25V1460.81H351.21ZM486.29 1451.8H534.32V1454.81H486.29ZM216.13 1454.81H294.17V1460.81H216.13ZM300.18 1454.81H327.19V1460.81H300.18ZM486.29 1454.81H498.29V1457.81H486.29ZM495.29 1457.81H498.29V1460.81H495.29ZM195.12 1460.81H1632.96V1463.82H195.12ZM207.12 1463.82H210.12V1472.83H207.12ZM216.13 1463.82H294.17V1466.82H216.13ZM300.18 1463.82H321.19V1466.82H300.18ZM468.28 1463.82H498.29V1466.82H468.28ZM468.28 1466.82H471.28V1469.82H468.28ZM180.11 1472.83H210.12V1475.83H180.11ZM180.11 1475.83H183.11V1478.83H180.11Z"/>
<path id="legend-box" fill="#000" d="M243.14 325.53H531.31V334.54H243.14ZM243.14 334.54H249.15V430.65H243.14ZM525.31 334.54H531.31V430.65H525.31ZM243.14 430.65H531.31V436.65H243.14ZM243.14 448.67H534.32V454.67H243.14ZM243.14 454.67H249.15V553.79H243.14ZM528.31 454.67H534.32V553.79H528.31ZM243.14 553.79H534.32V559.79H243.14Z"/>
</g>
<text class="leg" transform="translate(437 403.8) scale(0.95 1)" fill="#0000D4" stroke="#fff" stroke-width="1" paint-order="fill stroke">FS</text>
<text class="leg" transform="translate(438 523.8) scale(0.95 1)" fill="#DD0806" stroke="#fff" stroke-width="1" paint-order="fill stroke">SA</text>
<defs><clipPath id="k0"><path clip-rule="evenodd" d="M-200 -80H200V40H-200ZM-87.9 -4.7H-76.1V3H-87.9ZM-72.2 -4.7H-60.9V3H-72.2Z"/></clipPath><clipPath id="k1"><path clip-rule="evenodd" d="M-200 -80H200V40H-200ZM30.7 -4.7H42.6V3H30.7ZM46.4 -4.7H57.7V3H46.4Z"/></clipPath><clipPath id="k2"><path clip-rule="evenodd" d="M-200 -80H200V40H-200ZM15.7 -4.7H27.6V3H15.7ZM31.4 -4.7H42.7V3H31.4Z"/></clipPath><clipPath id="k3"><path clip-rule="evenodd" d="M-200 -80H200V40H-200ZM-6.9 -4.7H5V3H-6.9ZM8.8 -4.7H20.1V3H8.8Z"/></clipPath><clipPath id="k4"><path clip-rule="evenodd" d="M-200 -80H200V40H-200ZM-27.9 -4.7H-16V3H-27.9ZM-12.2 -4.7H-0.9V3H-12.2Z"/></clipPath><clipPath id="k5"><path clip-rule="evenodd" d="M-200 -80H200V40H-200ZM-42.9 -4.7H-31V3H-42.9ZM-27.2 -4.7H-15.9V3H-27.2Z"/></clipPath></defs>
<text class="tick" transform="translate(155.5 55) scale(0.9 1)" x="-90.1 -60.1 -30" y="0" stroke="#fff" stroke-width="1" paint-order="fill stroke" clip-path="url(#k0)">100</text>
<text class="tick" transform="translate(155.5 340.7) scale(0.9 1)" x="-60.1 -30" y="0" stroke="#fff" stroke-width="1" paint-order="fill stroke">80</text>
<text class="tick" transform="translate(155.5 625.9) scale(0.9 1)" x="-60.1 -30" y="0" stroke="#fff" stroke-width="1" paint-order="fill stroke">60</text>
<text class="tick" transform="translate(155.5 911.2) scale(0.9 1)" x="-60.1 -30" y="0" stroke="#fff" stroke-width="1" paint-order="fill stroke">40</text>
<text class="tick" transform="translate(155.5 1196.5) scale(0.9 1)" x="-60.1 -30" y="0" stroke="#fff" stroke-width="1" paint-order="fill stroke">20</text>
<text class="tick" transform="translate(155.5 1482) scale(0.9 1)" x="-30" y="0" stroke="#fff" stroke-width="1" paint-order="fill stroke">0</text>
<text class="tick" transform="translate(192.5 1551.1) scale(0.9 1)" x="-52.6 -22.5 -7.5 28.5" y="0" stroke="#fff" stroke-width="1" paint-order="fill stroke" clip-path="url(#k1)">0.01</text>
<text class="tick" transform="translate(551 1551.1) scale(0.9 1)" x="-37.5 -7.5 13.5" y="0" stroke="#fff" stroke-width="1" paint-order="fill stroke" clip-path="url(#k2)">0.1</text>
<text class="tick" transform="translate(913.4 1551.1) scale(0.9 1)" x="-9" y="0" stroke="#fff" stroke-width="1" paint-order="fill stroke" clip-path="url(#k3)">1</text>
<text class="tick" transform="translate(1274.8 1551.1) scale(0.9 1)" x="-30 0" y="0" stroke="#fff" stroke-width="1" paint-order="fill stroke" clip-path="url(#k4)">10</text>
<text class="tick" transform="translate(1632.5 1551.1) scale(0.9 1)" x="-45.1 -15 15" y="0" stroke="#fff" stroke-width="1" paint-order="fill stroke" clip-path="url(#k5)">100</text>
<text class="axis" transform="translate(930.6 1631.9) scale(1.015 1)" text-anchor="middle" >Sieve size (mm)</text>
<text class="axis" transform="translate(69.9 706.3) rotate(-90) scale(1.02 1)" text-anchor="middle" >Passing (% wt.)</text>
</svg>
</body>
</html>
